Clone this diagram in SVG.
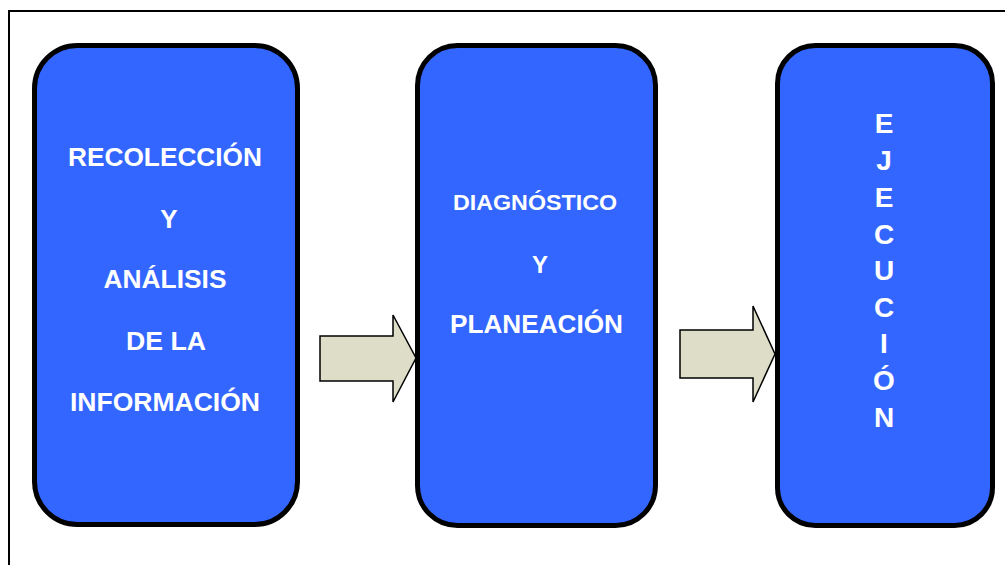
<svg xmlns="http://www.w3.org/2000/svg" width="1005" height="565" viewBox="0 0 1005 565">
<style>
.box{fill:#3366FF;stroke:#000;stroke-width:5}
.arrow{fill:#DDDDC8;stroke:#000;stroke-width:1.5;stroke-linejoin:miter}
.t{fill:#fff;font-family:"Liberation Sans",Arial,sans-serif;font-weight:bold;text-anchor:middle}
</style>
<rect width="1005" height="565" fill="#fff"/>
<path d="M9,565 V11 H1005" fill="none" stroke="#000" stroke-width="2"/>
<g id="connectors">
<polygon class="arrow" points="320,336 393,336 393,315 416,358 393,402 393,381 320,381"/>
<polygon class="arrow" points="680,330 753,330 753,306 775,354 753,402 753,378 680,378"/>
</g>
<g id="node1">
<rect class="box" x="34.5" y="45.5" width="263" height="479" rx="43"/>
<text class="t" font-size="25" x="165" y="166" textLength="194" lengthAdjust="spacingAndGlyphs">RECOLECCIÓN</text>
<text class="t" font-size="26" x="169" y="228">Y</text>
<text class="t" font-size="25" x="165" y="288" textLength="123" lengthAdjust="spacingAndGlyphs">ANÁLISIS</text>
<text class="t" font-size="25" x="166" y="350" textLength="80" lengthAdjust="spacingAndGlyphs">DE LA</text>
<text class="t" font-size="25" x="165" y="411" textLength="190" lengthAdjust="spacingAndGlyphs">INFORMACIÓN</text>
</g>
<g id="node2">
<rect class="box" x="417.5" y="45.5" width="238" height="480" rx="40"/>
<text class="t" font-size="22" x="535" y="210" textLength="164" lengthAdjust="spacingAndGlyphs">DIAGNÓSTICO</text>
<text class="t" font-size="24" x="540" y="273">Y</text>
<text class="t" font-size="25" x="536.5" y="333" textLength="173" lengthAdjust="spacingAndGlyphs">PLANEACIÓN</text>
</g>
<g id="node3">
<rect class="box" x="777.5" y="45.5" width="215" height="480" rx="38"/>
<g font-size="28">
<text class="t" x="884" y="133">E</text>
<text class="t" x="884" y="170">J</text>
<text class="t" x="884" y="207">E</text>
<text class="t" x="884" y="244">C</text>
<text class="t" x="884" y="280">U</text>
<text class="t" x="884" y="317">C</text>
<text class="t" x="884" y="353">I</text>
<text class="t" x="884" y="390">Ó</text>
<text class="t" x="884" y="427">N</text>
</g>
</g>
</svg>
